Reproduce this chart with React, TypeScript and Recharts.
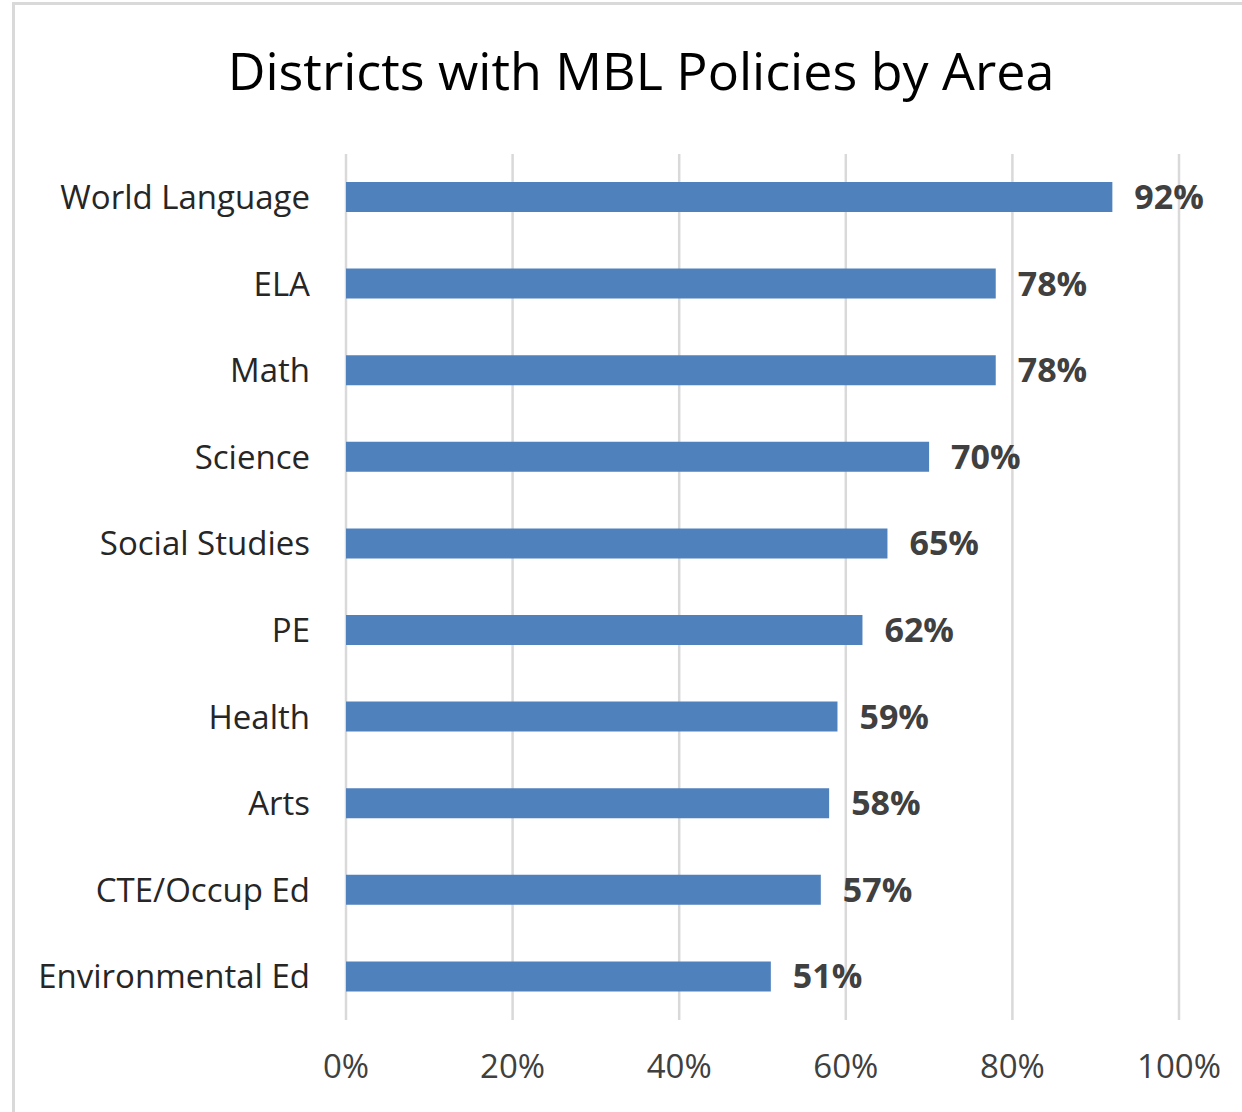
import { BarChart, Bar, XAxis, YAxis, CartesianGrid, LabelList } from "recharts";

const areas = [
  "World Language",
  "ELA",
  "Math",
  "Science",
  "Social Studies",
  "PE",
  "Health",
  "Arts",
  "CTE/Occup Ed",
  "Environmental Ed",
];
const shares = [92, 78, 78, 70, 65, 62, 59, 58, 57, 51];
const xTicks = [0, 20, 40, 60, 80, 100];

const data = areas.map((area, i) => ({ area, share: shares[i] }));

const font = "'Open Sans', 'Noto Sans', sans-serif";

const App = () => (
  <div
    style={{
      position: "fixed",
      left: 0,
      top: 0,
      width: 1242,
      height: 1112,
      background: "#fff",
      fontFamily: font,
    }}
  >
    <div
      style={{
        position: "absolute",
        left: 12,
        top: 2,
        right: -10,
        bottom: -10,
        border: "3px solid #d9d9d9",
      }}
    />
    <div
      style={{
        position: "absolute",
        left: 0,
        width: 1282,
        top: 37,
        textAlign: "center",
        fontSize: 52,
        color: "#000",
        lineHeight: "66px",
      }}
    >
      Districts with MBL Policies by Area
    </div>
    <div style={{ position: "absolute", left: 0, top: 0 }}>
      <BarChart
        width={1242}
        height={1112}
        data={data}
        layout="vertical"
        margin={{ top: 154, right: 63, bottom: 32, left: 0 }}
      >
        <CartesianGrid
          horizontal={false}
          stroke="#d9d9d9"
          strokeWidth={2.5}
        />
        <XAxis
          type="number"
          domain={[0, 100]}
          ticks={xTicks}
          tickFormatter={(v: number) => `${v}%`}
          axisLine={false}
          tickLine={false}
          height={60}
          tickMargin={29}
          tick={{ fill: "#404040", fontSize: 33, fontFamily: font }}
        />
        <YAxis
          type="category"
          dataKey="area"
          width={346}
          axisLine={false}
          tickLine={false}
          tickMargin={30}
          interval={0}
          tick={{ fill: "#262626", fontSize: 33, fontFamily: font }}
        />
        <Bar dataKey="share" fill="#4f81bd" barSize={30} isAnimationActive={false}>
          <LabelList
            dataKey="share"
            position="right"
            offset={22}
            formatter={(v: number) => `${v}%`}
            style={{ fill: "#404040", fontSize: 34, fontWeight: 700, fontFamily: font }}
          />
        </Bar>
      </BarChart>
    </div>
  </div>
);

export default App;
